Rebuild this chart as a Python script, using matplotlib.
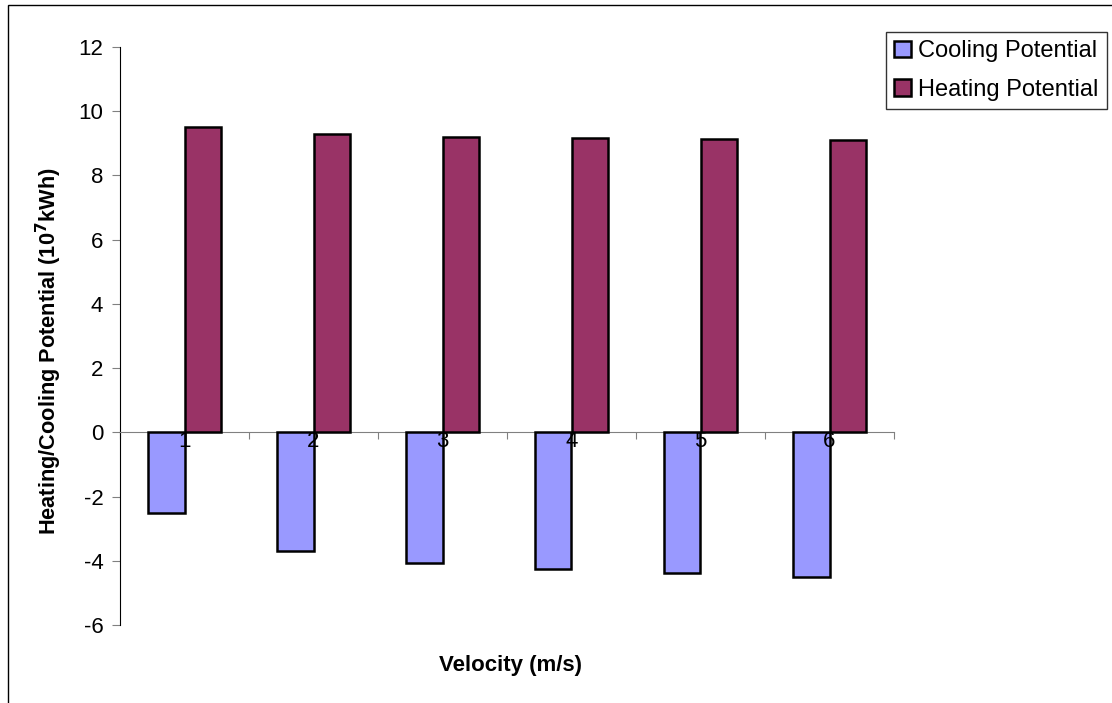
import matplotlib.pyplot as plt
from matplotlib.patches import Rectangle
import numpy as np

plt.rcParams['font.family'] = ['Liberation Sans', 'DejaVu Sans']
plt.rcParams['axes.unicode_minus'] = False

velocities = ['1', '2', '3', '4', '5', '6']
cooling = [-2.5, -3.68, -4.08, -4.27, -4.39, -4.49]
heating = [9.50, 9.28, 9.19, 9.16, 9.13, 9.10]

W, H = 1112, 703
fs = 16
fig = plt.figure(figsize=(W / 100, H / 100), dpi=100)
ax = fig.add_axes([120 / W, 1 - 625 / H, (894 - 120) / W, (625 - 47) / H])

x = np.arange(len(velocities))
bw = 0.285
ax.bar(x - bw / 2, cooling, bw, color='#9999ff', edgecolor='black', linewidth=1.8,
       label='Cooling Potential', zorder=3)
ax.bar(x + bw / 2, heating, bw, color='#993366', edgecolor='black', linewidth=1.8,
       label='Heating Potential', zorder=3)

ax.set_xlim(-0.5, len(velocities) - 0.5)
ax.set_ylim(-6, 12)
ax.set_yticks(np.arange(-6, 13, 2))
ax.tick_params(axis='y', direction='out', length=6, color='#808080', labelsize=fs, pad=6)

# x axis sits on zero; tick marks between categories
ax.spines['bottom'].set_position(('data', 0))
ax.spines['bottom'].set_color('#808080')
ax.spines['top'].set_visible(False)
ax.spines['right'].set_visible(False)
ax.set_xticks(np.arange(-0.5, len(velocities), 1))
ax.set_xticklabels([])
ax.tick_params(axis='x', direction='out', length=5, color='#808080')

# category labels drawn over the bars, just under the zero line
for xi, lab in zip(x, velocities):
    ax.text(xi, -0.28, lab, ha='center', va='center', fontsize=fs, zorder=5)

ax.set_ylabel('Heating/Cooling Potential (10$^\\mathbf{7}$kWh)', fontsize=15.7,
              fontweight='bold')
ax.yaxis.set_label_coords(-0.072, 0.474)
fig.text(511 / W, 1 - 666 / H, 'Velocity (m/s)', fontsize=fs, fontweight='bold',
         ha='center', va='center')

leg = fig.legend(loc='upper left', bbox_to_anchor=(886 / W, 1 - 32 / H), fontsize=17,
                 frameon=True, fancybox=False, edgecolor='black', handlelength=0.7,
                 handleheight=0.7, handletextpad=0.3, borderpad=0.35, labelspacing=0.7,
                 borderaxespad=0)
leg.get_frame().set_linewidth(1.0)

fig.patches.append(Rectangle((8 / W, -0.01), 1.1, 1 - 5 / H + 0.01, transform=fig.transFigure,
                             fill=False, edgecolor='black', linewidth=1))

fig.savefig('out.png', dpi=100)
